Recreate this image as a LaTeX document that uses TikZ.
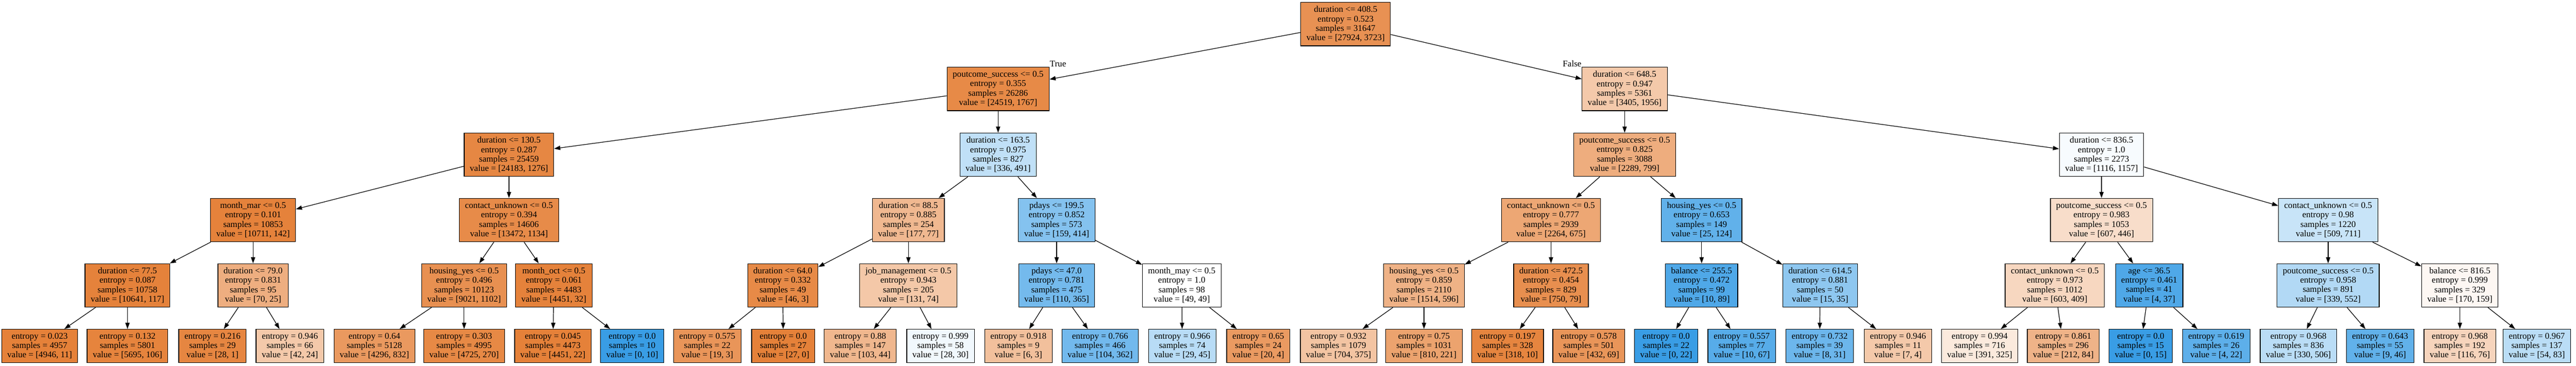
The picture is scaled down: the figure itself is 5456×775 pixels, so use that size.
\documentclass[tikz,border=0pt]{standalone}
\usepackage{fontspec}
\setmainfont{Liberation Serif}
\usetikzlibrary{arrows.meta}
\definecolor{cls0}{RGB}{229,129,57}
\definecolor{cls1}{RGB}{57,157,229}

\begin{document}
\begin{tikzpicture}[x=0.01cm,y=-0.01cm,-{Triangle[length=0.13cm,width=0.09cm]},line width=0.38pt,
        every node/.style={font=\fontsize{5.3}{5.69}\selectfont},
        split node/.style={rectangle,draw=black,align=center,minimum height=0.92cm,inner xsep=0.12cm,inner ysep=0pt},
        leaf node/.style={split node,minimum height=0.71cm},
        side label/.style={inner sep=0pt}]

    \useasboundingbox (0,0) rectangle (5456,775);

    % root and first split
    \node[split node, fill=cls0!87] (n0) at (2850,51) {duration <= 408.5\\entropy = 0.523\\samples = 31647\\value = [27924, 3723]};
    \node[split node, fill=cls0!93] (n1) at (2114,188.5) {poutcome\_success <= 0.5\\entropy = 0.355\\samples = 26286\\value = [24519, 1767]};
    \node[split node, fill=cls0!43] (n32) at (3441,188.5) {duration <= 648.5\\entropy = 0.947\\samples = 5361\\value = [3405, 1956]};

    \node[side label, anchor=south west] (ltrue) at (n1.north east) {True};
    \node[side label, anchor=south east] (lfalse) at (n32.north west) {False};

    % level 2
    \node[split node, fill=cls0!95] (n2) at (1078,328) {duration <= 130.5\\entropy = 0.287\\samples = 25459\\value = [24183, 1276]};
    \node[split node, fill=cls1!32] (n17) at (2114,328) {duration <= 163.5\\entropy = 0.975\\samples = 827\\value = [336, 491]};
    \node[split node, fill=cls0!65] (n33) at (3441,328) {poutcome\_success <= 0.5\\entropy = 0.825\\samples = 3088\\value = [2289, 799]};
    \node[split node, fill=cls1!4] (n48) at (4451,328) {duration <= 836.5\\entropy = 1.0\\samples = 2273\\value = [1116, 1157]};

    % level 3
    \node[split node, fill=cls0!99] (n3) at (536,466.5) {month\_mar <= 0.5\\entropy = 0.101\\samples = 10853\\value = [10711, 142]};
    \node[split node, fill=cls0!92] (n10) at (1078,466.5) {contact\_unknown <= 0.5\\entropy = 0.394\\samples = 14606\\value = [13472, 1134]};
    \node[split node, fill=cls0!56] (n18) at (1924,466.5) {duration <= 88.5\\entropy = 0.885\\samples = 254\\value = [177, 77]};
    \node[split node, fill=cls1!62] (n25) at (2238,466.5) {pdays <= 199.5\\entropy = 0.852\\samples = 573\\value = [159, 414]};
    \node[split node, fill=cls0!70] (n34) at (3285,466.5) {contact\_unknown <= 0.5\\entropy = 0.777\\samples = 2939\\value = [2264, 675]};
    \node[split node, fill=cls1!80] (n41) at (3604,466.5) {housing\_yes <= 0.5\\entropy = 0.653\\samples = 149\\value = [25, 124]};
    \node[split node, fill=cls0!27] (n49) at (4451,466.5) {poutcome\_success <= 0.5\\entropy = 0.983\\samples = 1053\\value = [607, 446]};
    \node[split node, fill=cls1!28] (n56) at (4931,466.5) {contact\_unknown <= 0.5\\entropy = 0.98\\samples = 1220\\value = [509, 711]};

    % level 4
    \node[split node, fill=cls0!99] (n4) at (270,605) {duration <= 77.5\\entropy = 0.087\\samples = 10758\\value = [10641, 117]};
    \node[split node, fill=cls0!64] (n7) at (536,605) {duration <= 79.0\\entropy = 0.831\\samples = 95\\value = [70, 25]};
    \node[split node, fill=cls0!88] (n11) at (983,605) {housing\_yes <= 0.5\\entropy = 0.496\\samples = 10123\\value = [9021, 1102]};
    \node[split node, fill=cls0!99] (n14) at (1173,605) {month\_oct <= 0.5\\entropy = 0.061\\samples = 4483\\value = [4451, 32]};
    \node[split node, fill=cls0!93] (n19) at (1658,605) {duration <= 64.0\\entropy = 0.332\\samples = 49\\value = [46, 3]};
    \node[split node, fill=cls0!44] (n22) at (1924,605) {job\_management <= 0.5\\entropy = 0.943\\samples = 205\\value = [131, 74]};
    \node[split node, fill=cls1!70] (n26) at (2238,605) {pdays <= 47.0\\entropy = 0.781\\samples = 475\\value = [110, 365]};
    \node[split node, fill=white] (n29) at (2503,605) {month\_may <= 0.5\\entropy = 1.0\\samples = 98\\value = [49, 49]};
    \node[split node, fill=cls0!61] (n35) at (3016,605) {housing\_yes <= 0.5\\entropy = 0.859\\samples = 2110\\value = [1514, 596]};
    \node[split node, fill=cls0!89] (n38) at (3285,605) {duration <= 472.5\\entropy = 0.454\\samples = 829\\value = [750, 79]};
    \node[split node, fill=cls1!89] (n42) at (3604,605) {balance <= 255.5\\entropy = 0.472\\samples = 99\\value = [10, 89]};
    \node[split node, fill=cls1!57] (n45) at (3855,605) {duration <= 614.5\\entropy = 0.881\\samples = 50\\value = [15, 35]};
    \node[split node, fill=cls0!32] (n50) at (4352,605) {contact\_unknown <= 0.5\\entropy = 0.973\\samples = 1012\\value = [603, 409]};
    \node[split node, fill=cls1!89] (n53) at (4552,605) {age <= 36.5\\entropy = 0.461\\samples = 41\\value = [4, 37]};
    \node[split node, fill=cls1!39] (n57) at (4931,605) {poutcome\_success <= 0.5\\entropy = 0.958\\samples = 891\\value = [339, 552]};
    \node[split node, fill=cls0!6] (n60) at (5210,605) {balance <= 816.5\\entropy = 0.999\\samples = 329\\value = [170, 159]};

    % leaves
    \node[leaf node, fill=cls0!100] (n5) at (84,733.5) {entropy = 0.023\\samples = 4957\\value = [4946, 11]};
    \node[leaf node, fill=cls0!98] (n6) at (270,733.5) {entropy = 0.132\\samples = 5801\\value = [5695, 106]};
    \node[leaf node, fill=cls0!96] (n8) at (450,733.5) {entropy = 0.216\\samples = 29\\value = [28, 1]};
    \node[leaf node, fill=cls0!43] (n9) at (614,733.5) {entropy = 0.946\\samples = 66\\value = [42, 24]};
    \node[leaf node, fill=cls0!81] (n12) at (793,733.5) {entropy = 0.64\\samples = 5128\\value = [4296, 832]};
    \node[leaf node, fill=cls0!94] (n13) at (983,733.5) {entropy = 0.303\\samples = 4995\\value = [4725, 270]};
    \node[leaf node, fill=cls0!100] (n15) at (1171,733.5) {entropy = 0.045\\samples = 4473\\value = [4451, 22]};
    \node[leaf node, fill=cls1!100] (n16) at (1339,733.5) {entropy = 0.0\\samples = 10\\value = [0, 10]};
    \node[leaf node, fill=cls0!84] (n20) at (1498,733.5) {entropy = 0.575\\samples = 22\\value = [19, 3]};
    \node[leaf node, fill=cls0!100] (n21) at (1659,733.5) {entropy = 0.0\\samples = 27\\value = [27, 0]};
    \node[leaf node, fill=cls0!57] (n23) at (1822,733.5) {entropy = 0.88\\samples = 147\\value = [103, 44]};
    \node[leaf node, fill=cls1!7] (n24) at (1992,733.5) {entropy = 0.999\\samples = 58\\value = [28, 30]};
    \node[leaf node, fill=cls0!50] (n27) at (2157,733.5) {entropy = 0.918\\samples = 9\\value = [6, 3]};
    \node[leaf node, fill=cls1!71] (n28) at (2330,733.5) {entropy = 0.766\\samples = 466\\value = [104, 362]};
    \node[leaf node, fill=cls1!36] (n30) at (2504,733.5) {entropy = 0.966\\samples = 74\\value = [29, 45]};
    \node[leaf node, fill=cls0!80] (n31) at (2665,733.5) {entropy = 0.65\\samples = 24\\value = [20, 4]};
    \node[leaf node, fill=cls0!47] (n36) at (2835,733.5) {entropy = 0.932\\samples = 1079\\value = [704, 375]};
    \node[leaf node, fill=cls0!73] (n37) at (3016,733.5) {entropy = 0.75\\samples = 1031\\value = [810, 221]};
    \node[leaf node, fill=cls0!97] (n39) at (3193,733.5) {entropy = 0.197\\samples = 328\\value = [318, 10]};
    \node[leaf node, fill=cls0!84] (n40) at (3365,733.5) {entropy = 0.578\\samples = 501\\value = [432, 69]};
    \node[leaf node, fill=cls1!100] (n43) at (3529,733.5) {entropy = 0.0\\samples = 22\\value = [0, 22]};
    \node[leaf node, fill=cls1!85] (n44) at (3689,733.5) {entropy = 0.557\\samples = 77\\value = [10, 67]};
    \node[leaf node, fill=cls1!74] (n46) at (3854,733.5) {entropy = 0.732\\samples = 39\\value = [8, 31]};
    \node[leaf node, fill=cls0!43] (n47) at (4020,733.5) {entropy = 0.946\\samples = 11\\value = [7, 4]};
    \node[leaf node, fill=cls0!17] (n51) at (4193,733.5) {entropy = 0.994\\samples = 716\\value = [391, 325]};
    \node[leaf node, fill=cls0!60] (n52) at (4370,733.5) {entropy = 0.861\\samples = 296\\value = [212, 84]};
    \node[leaf node, fill=cls1!100] (n54) at (4534,733.5) {entropy = 0.0\\samples = 15\\value = [0, 15]};
    \node[leaf node, fill=cls1!82] (n55) at (4694,733.5) {entropy = 0.619\\samples = 26\\value = [4, 22]};
    \node[leaf node, fill=cls1!35] (n58) at (4868,733.5) {entropy = 0.968\\samples = 836\\value = [330, 506]};
    \node[leaf node, fill=cls1!80] (n59) at (5041,733.5) {entropy = 0.643\\samples = 55\\value = [9, 46]};
    \node[leaf node, fill=cls0!34] (n61) at (5210,733.5) {entropy = 0.968\\samples = 192\\value = [116, 76]};
    \node[leaf node, fill=cls1!35] (n62) at (5373,733.5) {entropy = 0.967\\samples = 137\\value = [54, 83]};

    \path
    (n0) edge (n1) (n0) edge (n32)
    (n1) edge (n2) (n1) edge (n17)
    (n2) edge (n3) (n2) edge (n10)
    (n3) edge (n4) (n3) edge (n7)
    (n4) edge (n5) (n4) edge (n6)
    (n7) edge (n8) (n7) edge (n9)
    (n10) edge (n11) (n10) edge (n14)
    (n11) edge (n12) (n11) edge (n13)
    (n14) edge (n15) (n14) edge (n16)
    (n17) edge (n18) (n17) edge (n25)
    (n18) edge (n19) (n18) edge (n22)
    (n19) edge (n20) (n19) edge (n21)
    (n22) edge (n23) (n22) edge (n24)
    (n25) edge (n26) (n25) edge (n29)
    (n26) edge (n27) (n26) edge (n28)
    (n29) edge (n30) (n29) edge (n31)
    (n32) edge (n33) (n32) edge (n48)
    (n33) edge (n34) (n33) edge (n41)
    (n34) edge (n35) (n34) edge (n38)
    (n35) edge (n36) (n35) edge (n37)
    (n38) edge (n39) (n38) edge (n40)
    (n41) edge (n42) (n41) edge (n45)
    (n42) edge (n43) (n42) edge (n44)
    (n45) edge (n46) (n45) edge (n47)
    (n48) edge (n49) (n48) edge (n56)
    (n49) edge (n50) (n49) edge (n53)
    (n50) edge (n51) (n50) edge (n52)
    (n53) edge (n54) (n53) edge (n55)
    (n56) edge (n57) (n56) edge (n60)
    (n57) edge (n58) (n57) edge (n59)
    (n60) edge (n61) (n60) edge (n62);

\end{tikzpicture}
\end{document}
